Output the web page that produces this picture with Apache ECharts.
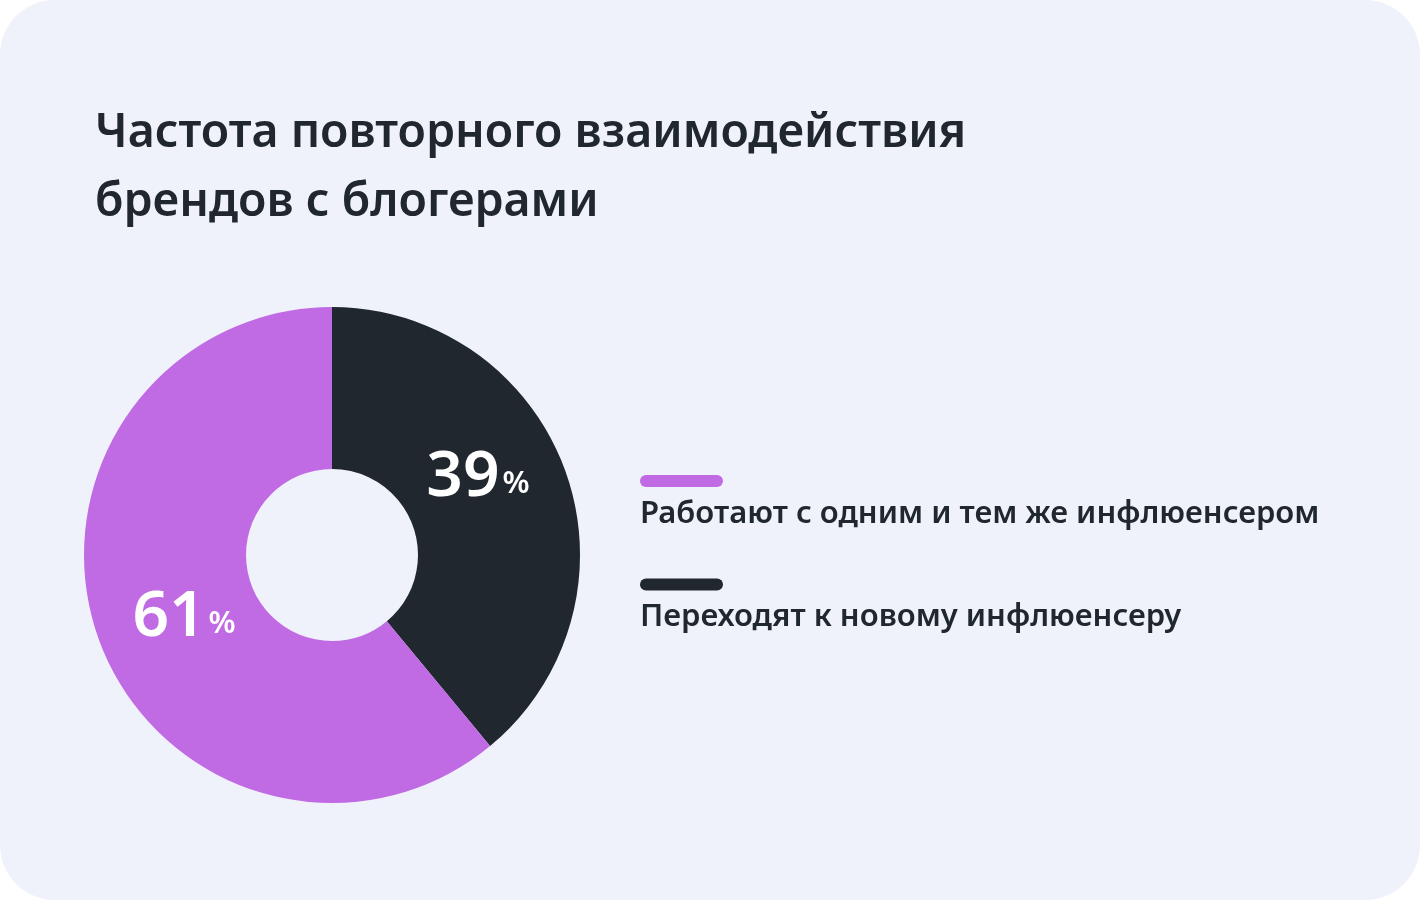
<!DOCTYPE html>
<html><head><meta charset="utf-8">
<script src="https://cdn.jsdelivr.net/npm/echarts@6/dist/echarts.min.js"></script>
<style>html,body{margin:0;padding:0;background:#fff}#c{width:1420px;height:900px}</style>
</head><body><div id="c"></div>
<script>
const titleLines = ['Частота повторного взаимодействия', 'брендов с блогерами'];
const categories = ['Переходят к новому инфлюенсеру', 'Работают с одним и тем же инфлюенсером'];
const values = [39, 61];
const colors = ['#20272E', '#C06AE3'];
const legendOrder = ['Работают с одним и тем же инфлюенсером', 'Переходят к новому инфлюенсеру'];
const labelOffsets = [[-14, -20], [12, 5]];

const FONT = '"Noto Sans", sans-serif';
const chart = echarts.init(document.getElementById('c'), null, {renderer: 'canvas'});
chart.setOption({
  backgroundColor: '#ffffff',
  animation: false,
  graphic: [{type: 'rect', z: -10, shape: {x: 0, y: 0, width: 1420, height: 900, r: 55}, style: {fill: '#EFF2FA'}}],
  title: {
    text: titleLines.join('\n'), left: 90, top: 94,
    textStyle: {fontFamily: FONT, fontSize: 46.5, fontWeight: 600, color: '#20272E', lineHeight: 69}
  },
  legend: {
    orient: 'vertical', left: 630, top: 470, itemGap: 49, icon: 'none', itemWidth: 0, itemHeight: 0,
    data: legendOrder, selectedMode: false,
    formatter: function (name) {
      const k = categories.indexOf(name) === 0 ? 'd' : 'p';
      return '{' + k + '|}\n{t|' + name + '}';
    },
    textStyle: {
      fontFamily: FONT,
      rich: {
        p: {width: 83, height: 12, backgroundColor: colors[1], borderRadius: 6},
        d: {width: 83, height: 12, backgroundColor: colors[0], borderRadius: 6},
        t: {fontFamily: FONT, fontSize: 31, fontWeight: 600, color: '#20272E', padding: [16, 0, 0, 0], lineHeight: 38}
      }
    }
  },
  series: [{
    type: 'pie', center: [332, 555], radius: [86, 248], startAngle: 90, clockwise: true,
    avoidLabelOverlap: false,
    data: categories.map((n, i) => ({
      name: n, value: values[i], itemStyle: {color: colors[i]},
      label: {offset: labelOffsets[i]}
    })),
    label: {
      show: true, position: 'inside', formatter: '{n|{c}}{p|%}',
      rich: {
        n: {fontFamily: FONT, fontSize: 64, fontWeight: 600, color: '#fff'},
        p: {fontFamily: FONT, fontSize: 31, fontWeight: 600, color: '#fff', padding: [14, 0, 0, 3]}
      }
    },
    labelLine: {show: false}, emphasis: {disabled: true}
  }]
});
</script></body></html>
